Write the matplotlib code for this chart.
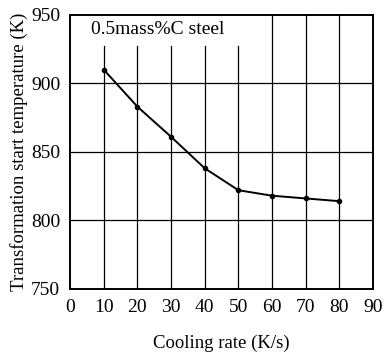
import matplotlib
matplotlib.use("Agg")
import matplotlib.pyplot as plt

# cooling rate (K/s) vs transformation start temperature (K)
rate = [10, 20, 30, 40, 50, 60, 70, 80]
temp = [910, 883, 861, 838, 822, 818, 816, 814]

xticks = [0, 10, 20, 30, 40, 50, 60, 70, 80, 90]
yticks = [750, 800, 850, 900, 950]

plt.rcParams["font.family"] = ["Liberation Serif", "DejaVu Serif"]

fig = plt.figure(figsize=(3.85, 3.54), dpi=100)
ax = fig.add_axes([0.182, 0.184, 0.787, 0.774])

# grid: vertical lines under the label stop short of the top
for x in xticks[1:-1]:
    top = 927 if x <= 50 else 950
    ax.plot([x, x], [750, top], color="black", lw=0.9, zorder=1)
for y in yticks[1:-1]:
    ax.axhline(y, color="black", lw=0.9, zorder=1)

ax.plot(rate, temp, color="black", lw=1.4, marker="o", ms=3, zorder=3)

ax.text(6.2, 939, "0.5mass%C steel", fontsize=14, va="center", ha="left")

ax.set_xlim(0, 90)
ax.set_ylim(750, 950)
ax.set_xticks(xticks)
ax.set_yticks(yticks)
ax.tick_params(length=0, labelsize=14, pad=7)
for s in ax.spines.values():
    s.set_linewidth(1.4)

ax.set_xlabel("Cooling rate (K/s)", fontsize=13.5, labelpad=14)
ax.set_ylabel("Transformation start temperature (K)", fontsize=13.5, labelpad=2)

fig.savefig("out.png", dpi=100)
